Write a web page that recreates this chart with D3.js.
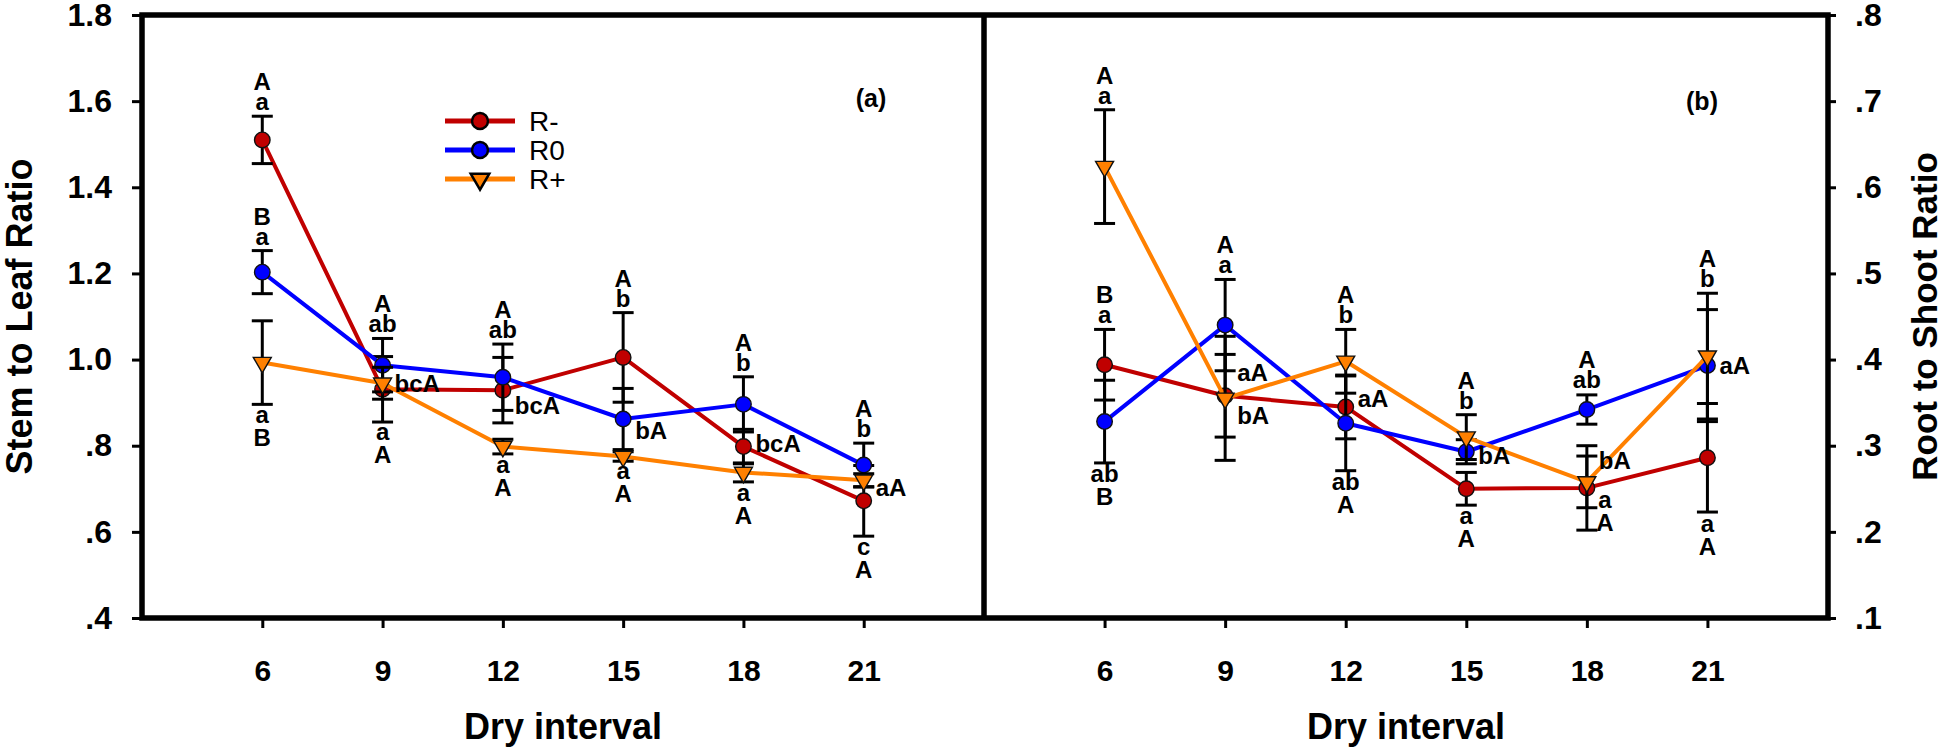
<!DOCTYPE html>
<html>
<head>
<meta charset="utf-8">
<script src="https://cdn.jsdelivr.net/npm/d3@7/dist/d3.min.js"></script>
<style>
  body { margin: 0; background: #fff; }
  svg { display: block; font-family: "Liberation Sans", Arial, sans-serif; }
</style>
</head>
<body>
<div id="chart"></div>
<script>
const W = 1946, H = 755;

// x categories (dry interval, days)
const days = [6, 9, 12, 15, 18, 21];
const seriesNames = ["R-", "R0", "R+"];
const seriesColors = ["#c00000", "#0000ff", "#ff8000"];

// (a) stem to leaf ratio: means and standard errors
const slRminus   = [1.510, 0.931, 0.929, 1.005, 0.798, 0.672];
const slRminusSE = [0.055, 0.076, 0.076, 0.104, 0.040, 0.082];
const slR0       = [1.203, 0.987, 0.959, 0.862, 0.896, 0.755];
const slR0SE     = [0.050, 0.062, 0.077, 0.071, 0.064, 0.051];
const slRplus    = [0.993, 0.945, 0.798, 0.775, 0.738, 0.720];
const slRplusSE  = [0.097, 0.037, 0.017, 0.011, 0.022, 0.015];

// (b) root to shoot ratio: means and standard errors
const rsRminus   = [0.394, 0.358, 0.345, 0.250, 0.251, 0.286];
const rsRminusSE = [0.041, 0.048, 0.037, 0.019, 0.049, 0.063];
const rsR0       = [0.328, 0.440, 0.326, 0.293, 0.342, 0.393];
const rsR0SE     = [0.048, 0.053, 0.055, 0.014, 0.017, 0.065];
const rsRplus    = [0.624, 0.355, 0.398, 0.310, 0.258, 0.404];
const rsRplusSE  = [0.066, 0.072, 0.037, 0.026, 0.030, 0.073];

// tick values
const slTicks = [0.4, 0.6, 0.8, 1.0, 1.2, 1.4, 1.6, 1.8];
const rsTicks = [0.1, 0.2, 0.3, 0.4, 0.5, 0.6, 0.7, 0.8];

// significance letters: day, anchor value, placement, text lines (top to bottom)
const slLetters = [
  {d: 6,  v: 1.565, pos: "above", t: ["A", "a"]},
  {d: 6,  v: 1.253, pos: "above", t: ["B", "a"]},
  {d: 6,  v: 0.896, pos: "below", t: ["a", "B"]},
  {d: 9,  v: 1.049, pos: "above", t: ["A", "ab"]},
  {d: 9,  v: 0.945, pos: "right", t: ["bcA"]},
  {d: 9,  v: 0.858, pos: "below", t: ["a", "A"]},
  {d: 12, v: 1.036, pos: "above", t: ["A", "ab"]},
  {d: 12, v: 0.895, pos: "right", t: ["bcA"]},
  {d: 12, v: 0.781, pos: "below", t: ["a", "A"]},
  {d: 15, v: 1.109, pos: "above", t: ["A", "b"]},
  {d: 15, v: 0.837, pos: "right", t: ["bA"]},
  {d: 15, v: 0.767, pos: "below", t: ["a", "A"]},
  {d: 18, v: 0.960, pos: "above", t: ["A", "b"]},
  {d: 18, v: 0.806, pos: "right", t: ["bcA"]},
  {d: 18, v: 0.716, pos: "below", t: ["a", "A"]},
  {d: 21, v: 0.806, pos: "above", t: ["A", "b"]},
  {d: 21, v: 0.705, pos: "right", t: ["aA"]},
  {d: 21, v: 0.590, pos: "below", t: ["c", "A"]}
];
const rsLetters = [
  {d: 6,  v: 0.690, pos: "above", t: ["A", "a"]},
  {d: 6,  v: 0.435, pos: "above", t: ["B", "a"]},
  {d: 6,  v: 0.280, pos: "below", t: ["ab", "B"]},
  {d: 9,  v: 0.493, pos: "above", t: ["A", "a"]},
  {d: 9,  v: 0.386, pos: "right", t: ["aA"]},
  {d: 9,  v: 0.336, pos: "right", t: ["bA"]},
  {d: 12, v: 0.435, pos: "above", t: ["A", "b"]},
  {d: 12, v: 0.355, pos: "right", t: ["aA"]},
  {d: 12, v: 0.271, pos: "below", t: ["ab", "A"]},
  {d: 15, v: 0.336, pos: "above", t: ["A", "b"]},
  {d: 15, v: 0.289, pos: "right", t: ["bA"]},
  {d: 15, v: 0.231, pos: "below", t: ["a", "A"]},
  {d: 18, v: 0.360, pos: "above", t: ["A", "ab"]},
  {d: 18, v: 0.283, pos: "right", t: ["bA"]},
  {d: 18, v: 0.250, pos: "below", t: ["a", "A"], dx: 18},
  {d: 21, v: 0.477, pos: "above", t: ["A", "b"]},
  {d: 21, v: 0.394, pos: "right", t: ["aA"]},
  {d: 21, v: 0.222, pos: "below", t: ["a", "A"]}
];

const svg = d3.select("#chart").append("svg")
    .attr("width", W)
    .attr("height", H);

// layout
const plotTop = 15, plotBottom = 618;
const leftX = 142, midX = 984, rightX = 1828;

const xL = d3.scaleLinear().domain([3, 24]).range([leftX, midX]);
const xR = d3.scaleLinear().domain([3, 24]).range([midX, rightX]);
const yL = d3.scaleLinear().domain([0.4, 1.8]).range([plotBottom, plotTop]);
const yR = d3.scaleLinear().domain([0.1, 0.8]).range([plotBottom, plotTop]);

const dropZero = v => d3.format(".1f")(v).replace(/^0\./, ".");

function symbolPath(si, size) {
    const type = si === 2 ? d3.symbolTriangle : d3.symbolCircle;
    return d3.symbol().type(type).size(size)();
}

function drawPanel(x, y, means, ses, letters) {
    const g = svg.append("g");

    means.forEach((vals, si) => {
        const pts = days.map((d, i) => ({d: d, v: vals[i], se: ses[si][i]}));

        g.append("path")
            .datum(pts)
            .attr("fill", "none")
            .attr("stroke", seriesColors[si])
            .attr("stroke-width", 4)
            .attr("stroke-linejoin", "round")
            .attr("d", d3.line().x(p => x(p.d)).y(p => y(p.v)));

        // error bars
        const eb = g.append("g").attr("stroke", "#000").attr("stroke-width", 3);
        pts.forEach(p => {
            eb.append("line")
                .attr("x1", x(p.d)).attr("x2", x(p.d))
                .attr("y1", y(p.v + p.se)).attr("y2", y(p.v - p.se));
            [p.v + p.se, p.v - p.se].forEach(v => {
                eb.append("line")
                    .attr("x1", x(p.d) - 10.5).attr("x2", x(p.d) + 10.5)
                    .attr("y1", y(v)).attr("y2", y(v));
            });
        });

        g.selectAll(null)
            .data(pts)
            .enter()
            .append("path")
            .attr("transform", p => `translate(${x(p.d)},${y(p.v)})` + (si === 2 ? " rotate(180)" : ""))
            .attr("d", symbolPath(si, si === 2 ? 140 : 190))
            .attr("fill", seriesColors[si])
            .attr("stroke", "#111")
            .attr("stroke-width", 1.4);
    });

    // significance letters
    const lg = g.append("g").attr("font-size", 24).attr("font-weight", "bold").attr("fill", "#000");
    letters.forEach(l => {
        const px = x(l.d) + (l.dx || 0), py = y(l.v);
        if (l.pos === "above") {
            const n = l.t.length;
            l.t.forEach((s, i) => {
                lg.append("text")
                    .attr("x", px).attr("y", py - 6 - (n - 1 - i) * 20)
                    .attr("text-anchor", "middle")
                    .text(s);
            });
        } else if (l.pos === "below") {
            l.t.forEach((s, i) => {
                lg.append("text")
                    .attr("x", px).attr("y", py + 19 + i * 23)
                    .attr("text-anchor", "middle")
                    .text(s);
            });
        } else {
            lg.append("text")
                .attr("x", px + 12).attr("y", py + 9)
                .attr("text-anchor", "start")
                .text(l.t[0]);
        }
    });
}

drawPanel(xL, yL, [slRminus, slR0, slRplus], [slRminusSE, slR0SE, slRplusSE], slLetters);
drawPanel(xR, yR, [rsRminus, rsR0, rsRplus], [rsRminusSE, rsR0SE, rsRplusSE], rsLetters);

// axes
const axisFont = g => g.selectAll("text")
    .attr("font-size", 32)
    .attr("font-weight", "bold")
    .attr("fill", "#000");

const yAxisL = svg.append("g")
    .attr("transform", `translate(${leftX},0)`)
    .call(d3.axisLeft(yL).tickValues(slTicks).tickFormat(dropZero).tickSize(10).tickSizeOuter(0).tickPadding(20));
const yAxisR = svg.append("g")
    .attr("transform", `translate(${rightX},0)`)
    .call(d3.axisRight(yR).tickValues(rsTicks).tickFormat(dropZero).tickSize(8).tickSizeOuter(0).tickPadding(19));
const xAxisL = svg.append("g")
    .attr("transform", `translate(0,${plotBottom})`)
    .call(d3.axisBottom(xL).tickValues(days).tickFormat(d3.format("d")).tickSize(10).tickSizeOuter(0));
const xAxisR = svg.append("g")
    .attr("transform", `translate(0,${plotBottom})`)
    .call(d3.axisBottom(xR).tickValues(days).tickFormat(d3.format("d")).tickSize(10).tickSizeOuter(0));

[yAxisL, yAxisR, xAxisL, xAxisR].forEach(a => {
    a.select(".domain").remove();
    a.selectAll("line").attr("stroke", "#000").attr("stroke-width", 3);
    axisFont(a);
});
[xAxisL, xAxisR].forEach(a => {
    a.selectAll("text").attr("dy", null).attr("y", 63).attr("font-size", 30);
});

// frame
svg.append("path")
    .attr("d", `M${leftX},${plotTop}H${rightX}V${plotBottom}H${leftX}Z M${midX},${plotTop}V${plotBottom}`)
    .attr("fill", "none")
    .attr("stroke", "#000")
    .attr("stroke-width", 5.5)
    .attr("stroke-linecap", "square");

// axis titles
svg.append("text")
    .attr("transform", `translate(32,${(plotTop + plotBottom) / 2}) rotate(-90)`)
    .attr("text-anchor", "middle")
    .attr("font-size", 36).attr("font-weight", "bold")
    .text("Stem to Leaf Ratio");
svg.append("text")
    .attr("transform", `translate(1937,${(plotTop + plotBottom) / 2}) rotate(-90)`)
    .attr("text-anchor", "middle")
    .attr("font-size", 35).attr("font-weight", "bold")
    .text("Root to Shoot Ratio");
[[leftX, midX], [midX, rightX]].forEach(([a, b]) => {
    svg.append("text")
        .attr("x", (a + b) / 2).attr("y", 739)
        .attr("text-anchor", "middle")
        .attr("font-size", 36).attr("font-weight", "bold")
        .text("Dry interval");
});

// panel tags
svg.append("text").attr("x", 871).attr("y", 107).attr("text-anchor", "middle")
    .attr("font-size", 25).attr("font-weight", "bold").text("(a)");
svg.append("text").attr("x", 1702).attr("y", 110).attr("text-anchor", "middle")
    .attr("font-size", 25).attr("font-weight", "bold").text("(b)");

// legend
const legend = svg.append("g").attr("transform", "translate(445,121)");
seriesNames.forEach((name, i) => {
    const row = legend.append("g").attr("transform", `translate(0,${i * 29})`);
    row.append("line")
        .attr("x1", 0).attr("x2", 70)
        .attr("stroke", seriesColors[i]).attr("stroke-width", 5);
    row.append("path")
        .attr("transform", "translate(35,0)" + (i === 2 ? " rotate(180)" : ""))
        .attr("d", symbolPath(i, i === 2 ? 150 : 200))
        .attr("fill", seriesColors[i])
        .attr("stroke", "#000")
        .attr("stroke-width", 2.5);
    row.append("text")
        .attr("x", 84).attr("y", 10)
        .attr("font-size", 28)
        .text(name);
});
</script>
</body>
</html>
